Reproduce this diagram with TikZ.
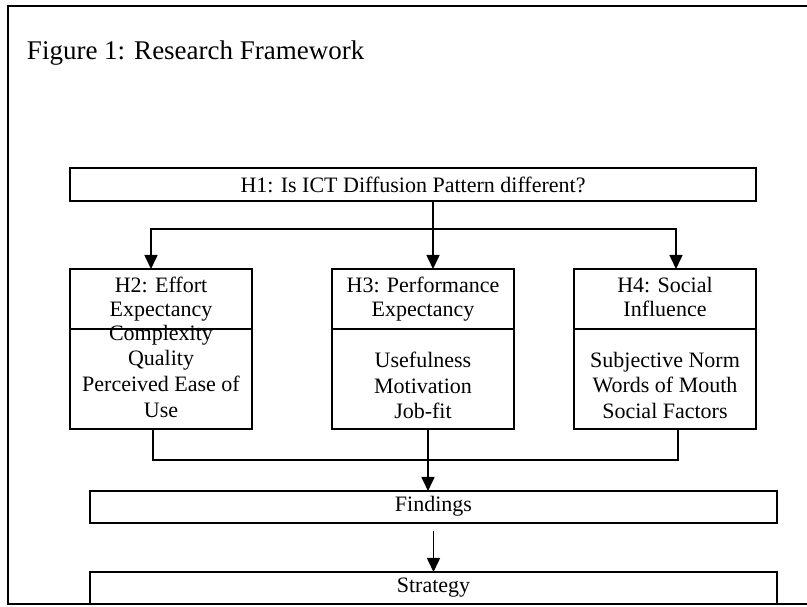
\documentclass[tikz,border=0pt]{standalone}
\usepackage{fontspec}
\setmainfont{Liberation Serif}
\usetikzlibrary{arrows.meta}

\begin{document}
\begin{tikzpicture}[x=1pt,y=1pt,
  box/.style={draw=drawColor,line width=1.6pt,inner sep=0pt,outer sep=0pt,align=center,font=\fontsize{22}{24}\selectfont},
  head/.style={box,minimum width=182pt,minimum height=60pt,text depth=5pt},
  body/.style={anchor=north,align=center,inner sep=0pt,outer sep=0pt,font=\fontsize{22}{25.7}\selectfont},
  flow/.style={draw=drawColor,line width=1.6pt},
  arr/.style={flow,-{Triangle[length=14pt,width=13pt]}}]
\definecolor{drawColor}{RGB}{0,0,0}
\path[use as bounding box] (0,0) rectangle (807,606);

\path[draw=drawColor,line width=1.8pt] (807,600.3) -- (8,600.3) -- (8,2) -- (807,2);

\node[text=drawColor,anchor=base west,inner sep=0pt,outer sep=0pt,font=\fontsize{27}{30}\selectfont] (title) at (27,546) {Figure 1: Research Framework};

\node[box,minimum width=686pt,minimum height=33pt] (h1) at (413,421.5) {H1: Is ICT Diffusion Pattern different?};

\node[head] (h2top) at (161,307) {H2: Effort\\Expectancy};

\node[box,minimum width=182pt,minimum height=100pt] (h2box) at (161,227) {};

\node[head] (h3top) at (423,307) {H3: Performance\\Expectancy};

\node[box,minimum width=182pt,minimum height=100pt] (h3box) at (423,227) {};

\node[head] (h4top) at (665,307) {H4: Social\\Influence};

\node[box,minimum width=182pt,minimum height=100pt] (h4box) at (665,227) {};

\node[body] (h2txt) at (161,281) {Complexity\\Quality\\Perceived Ease of\\Use};

\node[body] (h3txt) at (423,254) {Usefulness\\Motivation\\Job-fit};

\node[body] (h4txt) at (665,254) {Subjective Norm\\Words of Mouth\\Social Factors};

\node[box,minimum width=687pt,minimum height=32pt,text height=15pt,text depth=5pt] (findings) at (433.5,99) {Findings};

\node[box,minimum width=687pt,minimum height=32pt,text height=15pt,text depth=5pt] (strategy) at (433.5,18) {Strategy};

\coordinate (split) at (433,377);
\coordinate (merge) at (428,146);

\draw[flow] (h1.south -| split) -- (split);

\draw[arr] (split) -| ([xshift=-10pt]h2top.north);

\draw[arr] (split) -- (split |- h3top.north);

\draw[arr] (split) -| ([xshift=11pt]h4top.north);

\draw[flow] ([xshift=-8pt]h2box.south) |- (merge);

\draw[flow] ([xshift=13pt]h4box.south) |- (merge);

\draw[flow] ([xshift=5pt]h3box.south) -- (merge);

\draw[arr] (merge) -- (merge |- findings.north);

\draw[arr] ([yshift=-8pt]findings.south) -- (strategy.north);
\end{tikzpicture}
\end{document}
